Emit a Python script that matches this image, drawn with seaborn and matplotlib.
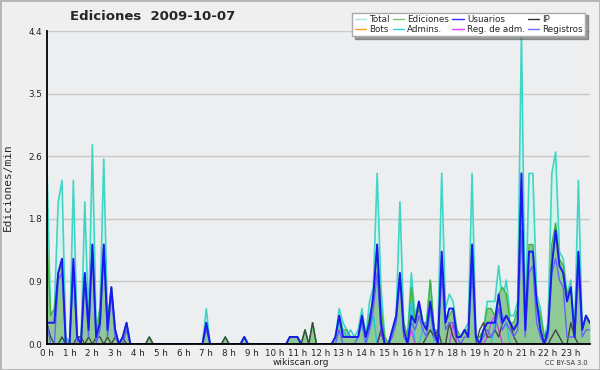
import numpy as np
import pandas as pd
import matplotlib
matplotlib.use("Agg")
import matplotlib.pyplot as plt
import seaborn as sns
from matplotlib.lines import Line2D
from matplotlib.patches import Rectangle
from matplotlib.ticker import MultipleLocator

# 10-minute bins over the day (144 points), values in edits/min
TOTAL = [
    2.6, 0.4, 0.5, 2.0, 2.3, 0.1, 0.0, 2.3, 0.1, 0.0, 2.0, 0.3,   # 0-1 h
    2.8, 0.2, 0.5, 2.6, 0.3, 0.8, 0.2, 0.0, 0.1, 0.3, 0.0, 0.0,   # 2-3 h
    0.0, 0.0, 0.0, 0.1, 0.0, 0.0, 0.0, 0.0, 0.0, 0.0, 0.0, 0.0,   # 4-5 h
    0.0, 0.0, 0.0, 0.0, 0.0, 0.0, 0.5, 0.0, 0.0, 0.0, 0.0, 0.1,   # 6-7 h
    0.0, 0.0, 0.0, 0.0, 0.1, 0.0, 0.0, 0.0, 0.0, 0.0, 0.0, 0.0,   # 8-9 h
    0.0, 0.0, 0.0, 0.0, 0.1, 0.1, 0.1, 0.0, 0.2, 0.0, 0.3, 0.0,   # 10-11 h
    0.0, 0.0, 0.0, 0.0, 0.1, 0.5, 0.3, 0.2, 0.1, 0.1, 0.2, 0.5,   # 12-13 h
    0.1, 0.6, 0.8, 2.4, 0.8, 0.1, 0.0, 0.2, 0.4, 2.0, 0.3, 0.1,   # 14-15 h
    1.0, 0.4, 0.6, 0.3, 0.3, 0.9, 0.2, 0.2, 2.4, 0.5, 0.7, 0.6,   # 16-17 h
    0.2, 0.1, 0.2, 0.3, 2.4, 0.1, 0.1, 0.2, 0.6, 0.6, 0.6, 1.1,   # 18-19 h
    0.6, 0.9, 0.4, 0.4, 0.6, 4.4, 0.3, 2.4, 2.4, 0.7, 0.5, 0.1,   # 20-21 h
    0.3, 2.4, 2.7, 1.3, 1.2, 0.7, 0.9, 0.2, 2.3, 0.2, 0.4, 0.3,   # 22-23 h
]
EDICIONES = [
    1.5, 0.4, 0.5, 1.0, 1.1, 0.1, 0.0, 1.1, 0.1, 0.1, 1.0, 0.3,
    1.4, 0.1, 0.5, 1.4, 0.3, 0.8, 0.2, 0.0, 0.1, 0.3, 0.0, 0.0,
    0.0, 0.0, 0.0, 0.1, 0.0, 0.0, 0.0, 0.0, 0.0, 0.0, 0.0, 0.0,
    0.0, 0.0, 0.0, 0.0, 0.0, 0.0, 0.3, 0.0, 0.0, 0.0, 0.0, 0.1,
    0.0, 0.0, 0.0, 0.0, 0.1, 0.0, 0.0, 0.0, 0.0, 0.0, 0.0, 0.0,
    0.0, 0.0, 0.0, 0.0, 0.1, 0.1, 0.1, 0.0, 0.2, 0.0, 0.3, 0.0,
    0.0, 0.0, 0.0, 0.0, 0.1, 0.4, 0.2, 0.2, 0.1, 0.1, 0.1, 0.4,
    0.1, 0.4, 0.6, 1.4, 0.5, 0.1, 0.0, 0.2, 0.3, 1.0, 0.3, 0.1,
    0.8, 0.3, 0.5, 0.3, 0.3, 0.9, 0.2, 0.1, 1.2, 0.3, 0.4, 0.5,
    0.2, 0.1, 0.2, 0.2, 1.4, 0.1, 0.1, 0.2, 0.5, 0.5, 0.4, 0.7,
    0.8, 0.7, 0.3, 0.3, 0.5, 2.3, 0.3, 1.4, 1.4, 0.6, 0.4, 0.1,
    0.2, 1.4, 1.7, 1.2, 1.1, 0.7, 0.8, 0.2, 1.3, 0.2, 0.4, 0.3,
]
USUARIOS = [
    0.3, 0.3, 0.3, 1.0, 1.2, 0.0, 0.0, 1.2, 0.1, 0.0, 1.0, 0.2,
    1.4, 0.1, 0.3, 1.4, 0.2, 0.8, 0.2, 0.0, 0.1, 0.3, 0.0, 0.0,
    0.0, 0.0, 0.0, 0.0, 0.0, 0.0, 0.0, 0.0, 0.0, 0.0, 0.0, 0.0,
    0.0, 0.0, 0.0, 0.0, 0.0, 0.0, 0.3, 0.0, 0.0, 0.0, 0.0, 0.0,
    0.0, 0.0, 0.0, 0.0, 0.1, 0.0, 0.0, 0.0, 0.0, 0.0, 0.0, 0.0,
    0.0, 0.0, 0.0, 0.0, 0.1, 0.1, 0.1, 0.0, 0.0, 0.0, 0.0, 0.0,
    0.0, 0.0, 0.0, 0.0, 0.1, 0.4, 0.1, 0.1, 0.1, 0.1, 0.1, 0.4,
    0.1, 0.3, 0.7, 1.4, 0.3, 0.0, 0.0, 0.2, 0.4, 1.0, 0.2, 0.0,
    0.4, 0.3, 0.6, 0.3, 0.2, 0.6, 0.2, 0.0, 1.3, 0.3, 0.5, 0.5,
    0.1, 0.1, 0.2, 0.1, 1.4, 0.1, 0.0, 0.2, 0.3, 0.3, 0.3, 0.7,
    0.3, 0.4, 0.3, 0.2, 0.3, 2.4, 0.2, 1.3, 1.3, 0.6, 0.2, 0.0,
    0.2, 1.1, 1.6, 1.1, 1.0, 0.6, 0.8, 0.1, 1.3, 0.2, 0.4, 0.3,
]
REGISTROS = [
    0.3, 0.0, 0.0, 0.9, 1.0, 0.0, 0.0, 1.1, 0.0, 0.0, 0.9, 0.1,
    1.3, 0.0, 0.2, 1.3, 0.1, 0.7, 0.1, 0.0, 0.0, 0.2, 0.0, 0.0,
    0.0, 0.0, 0.0, 0.0, 0.0, 0.0, 0.0, 0.0, 0.0, 0.0, 0.0, 0.0,
    0.0, 0.0, 0.0, 0.0, 0.0, 0.0, 0.2, 0.0, 0.0, 0.0, 0.0, 0.0,
    0.0, 0.0, 0.0, 0.0, 0.0, 0.0, 0.0, 0.0, 0.0, 0.0, 0.0, 0.0,
    0.0, 0.0, 0.0, 0.0, 0.0, 0.0, 0.0, 0.0, 0.0, 0.0, 0.0, 0.0,
    0.0, 0.0, 0.0, 0.0, 0.0, 0.2, 0.0, 0.0, 0.0, 0.0, 0.1, 0.3,
    0.0, 0.2, 0.5, 1.0, 0.2, 0.0, 0.0, 0.1, 0.3, 0.9, 0.1, 0.0,
    0.3, 0.2, 0.4, 0.2, 0.1, 0.5, 0.1, 0.0, 1.0, 0.2, 0.3, 0.3,
    0.1, 0.0, 0.1, 0.1, 1.0, 0.0, 0.0, 0.1, 0.2, 0.1, 0.2, 0.5,
    0.2, 0.3, 0.2, 0.1, 0.2, 1.6, 0.1, 1.0, 1.1, 0.3, 0.1, 0.0,
    0.1, 1.0, 1.2, 0.9, 0.8, 0.1, 0.1, 0.1, 1.0, 0.1, 0.2, 0.2,
]
# sparse series: bin index -> value
IP_BINS = [0, 1, 4, 8, 9, 11, 13, 14, 16, 18, 20, 27, 47, 68, 70, 88, 100, 101,
           102, 103, 106, 107, 114, 115, 116, 117, 118, 119, 120, 121, 122, 123,
           133, 134, 135, 138, 139]
IP_VALS = [0.3, 0.1, 0.1, 0.1, 0.1, 0.1, 0.1, 0.1, 0.1, 0.1, 0.1, 0.1, 0.1, 0.2,
           0.3, 0.2, 0.1, 0.2, 0.1, 0.2, 0.3, 0.1, 0.2, 0.3, 0.1, 0.1, 0.2, 0.1,
           0.3, 0.4, 0.3, 0.1, 0.1, 0.2, 0.1, 0.3, 0.1]
ADMINS_BINS = [5, 42, 52, 76, 77, 78, 79, 80, 81, 82, 83, 85, 86, 96, 99, 100,
               101, 118, 119, 120, 121]
ADMINS_VALS = [0.1, 0.3, 0.1, 0.1, 0.3, 0.2, 0.1, 0.2, 0.1, 0.1, 0.3, 0.2, 0.4,
               0.6, 0.2, 0.3, 0.5, 0.3, 0.5, 0.4, 0.3]
REGADM_BINS = [88, 96, 107, 116, 117, 118, 119]
REGADM_VALS = [0.15, 0.2, 0.3, 0.1, 0.3, 0.4, 0.2]

HOURS = [f"{h} h" for h in range(24)]
YTICKS = [0, 0.88, 1.76, 2.64, 3.52, 4.4]

N = 144
def sparse(bins, vals):
    out = np.zeros(N)
    out[bins] = vals
    return out

df = pd.DataFrame({
    "bin": np.arange(N),
    "Total": TOTAL, "Ediciones": EDICIONES, "Usuarios": USUARIOS,
    "Registros": REGISTROS, "IP": sparse(IP_BINS, IP_VALS),
    "Admins.": sparse(ADMINS_BINS, ADMINS_VALS),
    "Reg. de adm.": sparse(REGADM_BINS, REGADM_VALS),
    "Bots": np.zeros(N),
})

sns.set_style("white")
plt.rcParams['font.family'] = ['DejaVu Sans']

fig = plt.figure(figsize=(6, 3.7), dpi=100, facecolor="#efefef")
ax = fig.add_axes([0.078, 0.070, 0.905, 0.846])
ax.set_facecolor("#eceef0")

ax.fill_between(df["bin"], df["Total"], color="#d6f2ec", lw=0, zorder=1)
sns.lineplot(data=df, x="bin", y="Total", ax=ax, color="#3fd6c6", lw=1.2, zorder=2)
ax.fill_between(df["bin"], df["Ediciones"], color="#8fc996", lw=0, zorder=3)
sns.lineplot(data=df, x="bin", y="Ediciones", ax=ax, color="#3cb43c", lw=1.0, zorder=4)
sns.lineplot(data=df, x="bin", y="Bots", ax=ax, color="#ffa020", lw=1.0, zorder=4)
sns.lineplot(data=df, x="bin", y="Admins.", ax=ax, color="#22c4e6", lw=1.0, zorder=5)
sns.lineplot(data=df, x="bin", y="Reg. de adm.", ax=ax, color="#cc44ee", lw=1.0, zorder=5)
sns.lineplot(data=df, x="bin", y="IP", ax=ax, color="#404840", lw=1.0, zorder=6)
sns.lineplot(data=df, x="bin", y="Registros", ax=ax, color="#6464ff", lw=1.0, zorder=6)
sns.lineplot(data=df, x="bin", y="Usuarios", ax=ax, color="#1a1af0", lw=1.4, zorder=7)

ax.set_xlim(0, N - 1)
ax.set_ylim(0, 4.4)
ax.set_xticks(range(0, N, 6))
ax.set_xticklabels(HOURS)
ax.xaxis.set_minor_locator(MultipleLocator(1))
ax.set_yticks(YTICKS)
ax.set_yticklabels([f"{v:.1f}" for v in YTICKS])
ax.yaxis.set_minor_locator(MultipleLocator(0.22))
ax.tick_params(which="major", direction="out", length=3, width=1, labelsize=6.3,
               pad=0.3, colors="black", labelcolor="#222222")
ax.tick_params(which="minor", direction="out", length=3, width=1, colors="black")
ax.set_xlabel("")
ax.set_ylabel("Ediciones/min", family="DejaVu Sans Mono", fontsize=8)
ax.yaxis.set_label_coords(-0.062, 0.5)

ax.set_axisbelow(True)
ax.yaxis.grid(True, color="#c8c8c8", lw=1)
ax.xaxis.grid(False)
for s in ["top", "right"]:
    ax.spines[s].set_visible(False)
for s in ["left", "bottom"]:
    ax.spines[s].set_color("black")
    ax.spines[s].set_linewidth(1.3)
    ax.spines[s].set_zorder(10)

fig.text(0.255, 0.956, "Ediciones  2009-10-07", fontweight="bold", fontsize=9.5,
         ha="center", va="center")
fig.text(0.502, 0.009, "wikiscan.org", fontsize=6.5, ha="center", va="bottom", color="#222222")
fig.text(0.98, 0.011, "CC BY-SA 3.0", fontsize=4.8, ha="right", va="bottom", color="#333333")

legend_items = [
    ("Total", "#a6e8e4"), ("Bots", "#ffa020"),
    ("Ediciones", "#70c870"), ("Admins.", "#30d0e8"),
    ("Usuarios", "#3030ff"), ("Reg. de adm.", "#e040ff"),
    ("IP", "#303030"), ("Registros", "#7070ff"),
]
handles = [Line2D([0], [0], color=c, lw=1) for _, c in legend_items]
leg = fig.legend(handles, [n for n, _ in legend_items], ncol=4, loc="upper right",
                 bbox_to_anchor=(0.983, 0.978), fontsize=6.3, frameon=True,
                 fancybox=False, shadow=True, edgecolor="#aaaaaa",
                 handlelength=1.3, handletextpad=0.35, columnspacing=0.35,
                 borderpad=0.3, labelspacing=0.05)
leg.get_frame().set_facecolor("white")
leg.get_frame().set_alpha(1)

fig.patches.append(Rectangle((0, 0), 1, 1, transform=fig.transFigure, fill=False,
                             ec="#b4b4b4", lw=2))

fig.savefig("out.png", dpi=100, facecolor=fig.get_facecolor())
